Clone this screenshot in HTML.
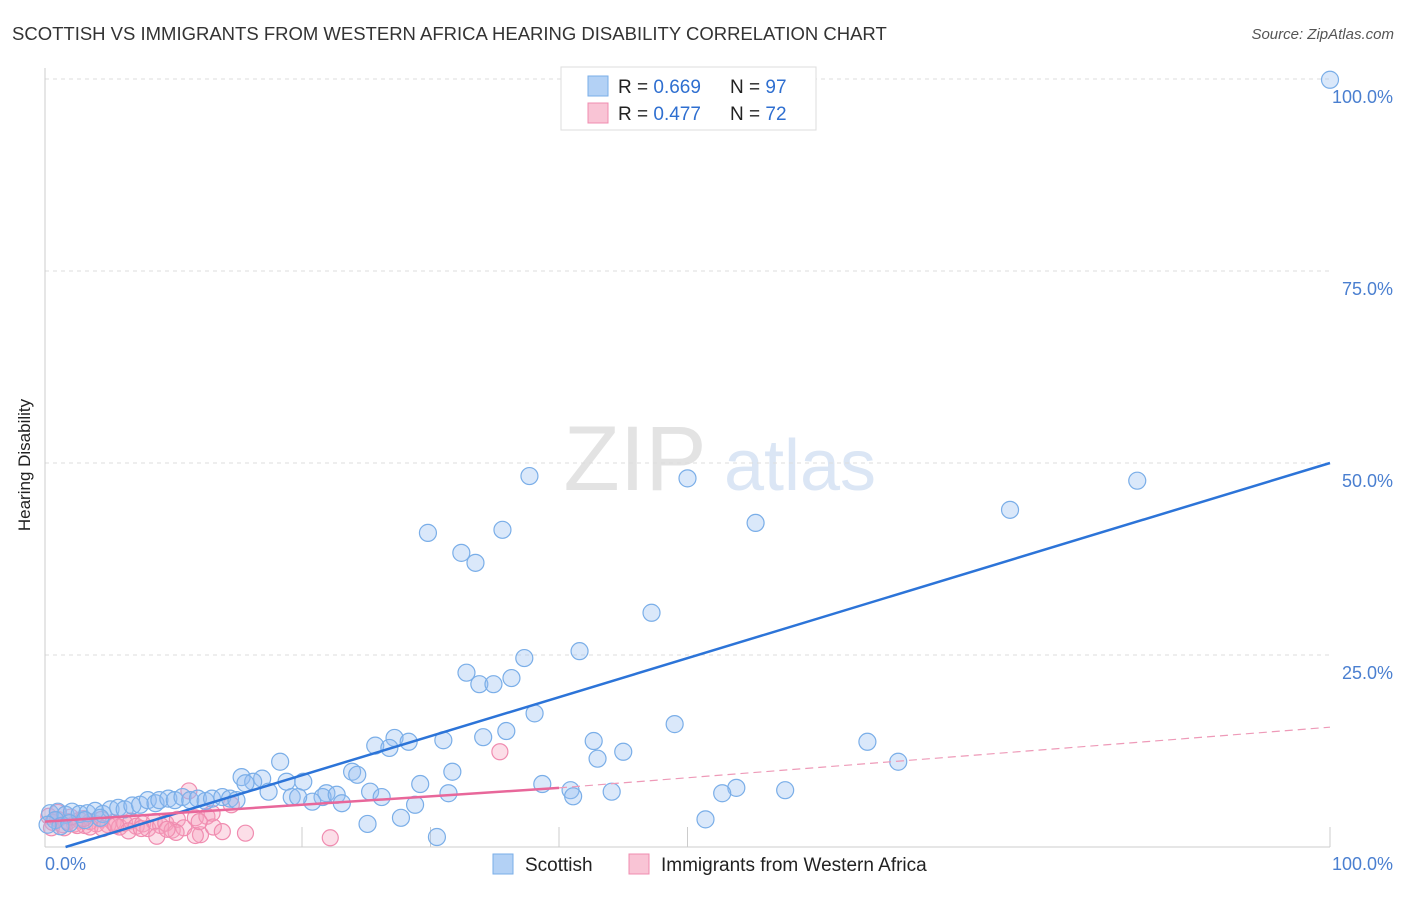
<!DOCTYPE html>
<html><head><meta charset="utf-8"><style>
body{margin:0;background:#fff;font-family:"Liberation Sans",sans-serif}
svg text{font-family:"Liberation Sans",sans-serif}
</style></head><body>
<svg width="1406" height="892">
<text x="12" y="40" font-size="18.5" fill="#333">SCOTTISH VS IMMIGRANTS FROM WESTERN AFRICA HEARING DISABILITY CORRELATION CHART</text>
<text x="1394" y="39" font-size="15" fill="#555" font-style="italic" text-anchor="end">Source: ZipAtlas.com</text>
<g><text x="635" y="490" font-size="92" fill="#e3e3e3" font-family="Liberation Serif" text-anchor="middle">ZIP</text><text x="800" y="490" font-size="72" fill="#dbe6f5" text-anchor="middle">atlas</text></g>
<g id="grid"></g>
<line x1="45" y1="68" x2="45" y2="847" stroke="#ccc"/>
<line x1="45" y1="847" x2="1330" y2="847" stroke="#ccc"/>
<text x="20" y="455" font-size="17" fill="#222" transform="rotate(-90 30 455)" text-anchor="middle">Hearing Disability</text>
<g id="pts"></g>
<g id="trend"></g>
<text x="45" y="870" font-size="18" fill="#4a7fd0">0.0%</text>
<text x="1393" y="870" font-size="18" fill="#4a7fd0" text-anchor="end">100.0%</text>
<g>
<rect x="561" y="67" width="255" height="63" fill="#fff" stroke="#ddd"/>
<rect x="588" y="76" width="20" height="20" fill="#b3d1f5" stroke="#7aaee8"/>
<rect x="588" y="103" width="20" height="20" fill="#f9c4d5" stroke="#f08cb0"/>
<text x="618" y="93" font-size="19" fill="#222">R = <tspan fill="#2f6fd0">0.669</tspan></text>
<text x="730" y="93" font-size="19" fill="#222">N = <tspan fill="#2f6fd0">97</tspan></text>
<text x="618" y="120" font-size="19" fill="#222">R = <tspan fill="#2f6fd0">0.477</tspan></text>
<text x="730" y="120" font-size="19" fill="#222">N = <tspan fill="#2f6fd0">72</tspan></text>
</g>
<g>
<rect x="493" y="854" width="20" height="20" fill="#b3d1f5" stroke="#7aaee8"/>
<text x="525" y="871" font-size="19" fill="#222">Scottish</text>
<rect x="629" y="854" width="20" height="20" fill="#f9c4d5" stroke="#f08cb0"/>
<text x="661" y="871" font-size="19" fill="#222">Immigrants from Western Africa</text>
</g>
</svg>
<script>
const yTicks=[25,50,75,100];
const yTickLabels=["25.0%","50.0%","75.0%","100.0%"];
const xTicks=[20,30,40,50,100];
const blueX=[100,37.7,50,85,75.1,55.3,35.6,29.8,32.4,33.5,47.2,41.6,37.3,32.8,33.8,34.9,36.3,38.1,49,35.9,34.1,31,42.7,64,27.2,28.3,25.7,26.8,45,43,66.4,18.3,15.3,16.9,23.9,24.3,31.7,16.2,18.8,20.1,29.2,38.7,40.9,41.1,44.1,53.8,52.7,57.6,17.4,19.2,21.9,21.6,22.7,25.3,26.2,31.4,23.1,20.8,28.8,25.1,27.7,30.5,51.4,19.7,0.4,1.0,1.6,2.1,2.7,3.3,3.9,4.5,5.1,5.7,6.2,6.8,7.4,8.0,8.6,8.9,9.6,10.1,10.7,11.3,11.9,12.5,13.0,13.8,14.4,14.9,15.6,0.8,1.2,0.2,1.9,3.1,4.3];
const blueY=[99.9,48.3,48,47.7,43.9,42.2,41.3,40.9,38.3,37,30.5,25.5,24.6,22.7,21.2,21.2,22,17.4,16,15.1,14.3,13.9,13.8,13.7,14.2,13.7,13.2,12.9,12.4,11.5,11.1,11.1,9.1,8.9,9.8,9.4,9.8,8.5,8.5,8.5,8.2,8.2,7.4,6.6,7.2,7.7,7,7.4,7.2,6.5,7,6.5,6.8,7.2,6.5,7,5.7,5.9,5.5,3,3.8,1.3,3.6,6.5,4.4,4.6,4.2,4.6,4.3,4.4,4.7,4.3,4.9,5.1,4.9,5.4,5.5,6.1,5.7,6.1,6.3,6.1,6.5,6.1,6.3,6.0,6.3,6.5,6.3,6.1,8.3,3.5,2.7,2.9,3.1,3.5,3.8];
const pinkX=[0.3,0.6,1.0,1.4,1.8,2.3,2.7,3.1,3.5,4.0,4.4,4.9,5.3,5.8,6.2,6.7,7.1,7.6,8.0,8.5,9.0,9.4,9.9,10.3,10.8,11.2,11.7,12.1,12.6,13.1,13.8,14.5,15.6,22.2,35.4,8.7,10.2,11.7,0.5,1.5,2.5,3.5,4.5,5.5,6.5,7.5,9.5,12.0,13.0,1.0,2.0,3.0];
const pinkY=[4.0,3.2,3.6,2.9,3.3,3.0,3.5,2.8,3.3,3.0,3.6,2.9,3.2,2.6,3.1,3.4,2.7,3.0,2.4,3.3,2.8,3.1,2.2,3.6,2.5,7.3,3.8,1.6,4.0,2.6,2.0,5.5,1.8,1.2,12.4,1.4,1.9,1.5,2.5,2.5,2.8,2.6,2.4,2.8,2.1,2.4,2.3,3.3,4.4,4.5,3.9,3.7];
const blueTrend=[[1.6,0],[100,50]];
const pinkSolid=[[0,3.3],[40,7.7]];
const pinkDash=[[40,7.7],[100,15.6]];
const X=v=>45+v*12.85, Y=v=>847-v*7.68;
const NS="http://www.w3.org/2000/svg";
function mk(t,a,p){const e=document.createElementNS(NS,t);for(const k in a)e.setAttribute(k,a[k]);p.appendChild(e);return e;}
const grid=document.getElementById('grid');
yTicks.forEach((t,i)=>{
 const l=mk('line',{x1:45,x2:1330,y1:Y(t),y2:Y(t),stroke:'#ddd','stroke-dasharray':'4,4'},grid);
 
 
 const tx=mk('text',{x:1393,y:Y(t)+24,'font-size':18,fill:'#4a7fd0','text-anchor':'end'},grid);
 tx.textContent=yTickLabels[i];
 
 
});
xTicks.forEach(t=>{
 const l=mk('line',{x1:X(t),x2:X(t),y1:827,y2:847,stroke:'#ccc'},grid);
 
 
});
const pts=document.getElementById('pts');
pinkX.forEach((x,i)=>{
 const c=mk('circle',{cx:X(x),cy:Y(pinkY[i]),r:8,fill:'rgba(245,160,190,0.35)',stroke:'#f08cb0','stroke-width':1.2},pts);
 
 
});
blueX.forEach((x,i)=>{
 const c=mk('circle',{cx:X(x),cy:Y(blueY[i]),r:8.5,fill:'rgba(150,190,240,0.35)',stroke:'#7aaee8','stroke-width':1.2},pts);
 
 
});
const tr=document.getElementById('trend');
let b=mk('line',{x1:X(blueTrend[0][0]),y1:Y(blueTrend[0][1]),x2:X(blueTrend[1][0]),y2:Y(blueTrend[1][1]),stroke:'#2c74d8','stroke-width':2.5},tr);


let p=mk('line',{x1:X(pinkSolid[0][0]),y1:Y(pinkSolid[0][1]),x2:X(pinkSolid[1][0]),y2:Y(pinkSolid[1][1]),stroke:'#e8679a','stroke-width':2.5},tr);


let d=mk('line',{x1:X(pinkDash[0][0]),y1:Y(pinkDash[0][1]),x2:X(pinkDash[1][0]),y2:Y(pinkDash[1][1]),stroke:'#ee9ab8','stroke-width':1.2,'stroke-dasharray':'8,5'},tr);


</script>
</body></html>
